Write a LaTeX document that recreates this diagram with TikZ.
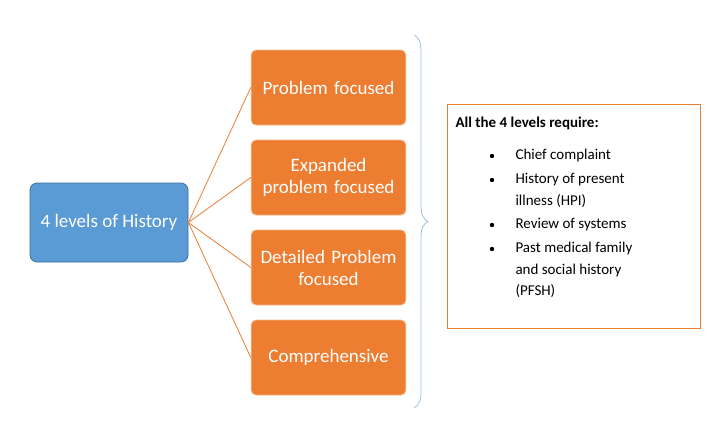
\documentclass[tikz,border=0pt]{standalone}
\usepackage{fontspec}
\setmainfont{Carlito}
\usetikzlibrary{decorations.pathreplacing}
\definecolor{box_blue}{RGB}{91,155,213}
\definecolor{edge_blue}{RGB}{65,113,156}
\definecolor{box_orange}{RGB}{237,125,49}
\definecolor{edge_orange}{RGB}{248,180,130}
\definecolor{brace_blue}{RGB}{155,194,230}
\begin{document}
\begin{tikzpicture}[x=1pt,y=-1pt]
    \tikzstyle{level}=[draw=edge_orange, thick, fill=box_orange, rounded corners=5pt, minimum width=153pt, minimum height=75pt, text=white, text width=148pt, align=center, font=\fontsize{19}{22}\selectfont]
    \tikzstyle{root}=[draw=edge_blue, thick, fill=box_blue, rounded corners=7pt, minimum width=158pt, minimum height=79pt, text=white, align=center, font=\fontsize{19}{22}\selectfont]
    \tikzstyle{link}=[draw=box_orange, thick]
    \tikzstyle{item}=[anchor=north west, font=\fontsize{15}{21.5}\selectfont, align=left]
    \useasboundingbox (0,0) rectangle (720,445);

    \node[root] (hist) at (109,222.5) {4 levels of History};
    \node[level] (pf) at (328.5,87.5)  {Problem focused};
    \node[level] (ep) at (328.5,177.5) {Expanded\\problem focused};
    \node[level] (dp) at (328.5,267.5) {Detailed Problem\\focused};
    \node[level] (cp) at (328.5,357.5) {Comprehensive};
    \node[draw=box_orange, thick, fill=white, minimum width=253pt, minimum height=224pt, anchor=north west, inner sep=0pt] (req) at (447,104) {};
    \node[anchor=north west, font=\bfseries\fontsize{15}{18}\selectfont] (head) at (452,113) {All the 4 levels require:};

    \node[item] (i1) at (512,146) {Chief complaint};
    \node[item] (i2) at (512,170) {History of present\\illness (HPI)};
    \node[item] (i3) at (512,215) {Review of systems};
    \node[item] (i4) at (512,239) {Past medical family\\and social history\\(PFSH)};
    \foreach \n in {i1,i2,i3,i4}
      \fill ([xshift=-20pt,yshift=-10pt]\n.north west) circle (2.2pt);

    \foreach \n in {pf,ep,dp,cp}
      \path[link] (hist.east) -- (\n.west);
    \draw[brace_blue, thick, decorate, decoration={brace, amplitude=14pt}] (414,35) -- (414,408);
\end{tikzpicture}
\end{document}
